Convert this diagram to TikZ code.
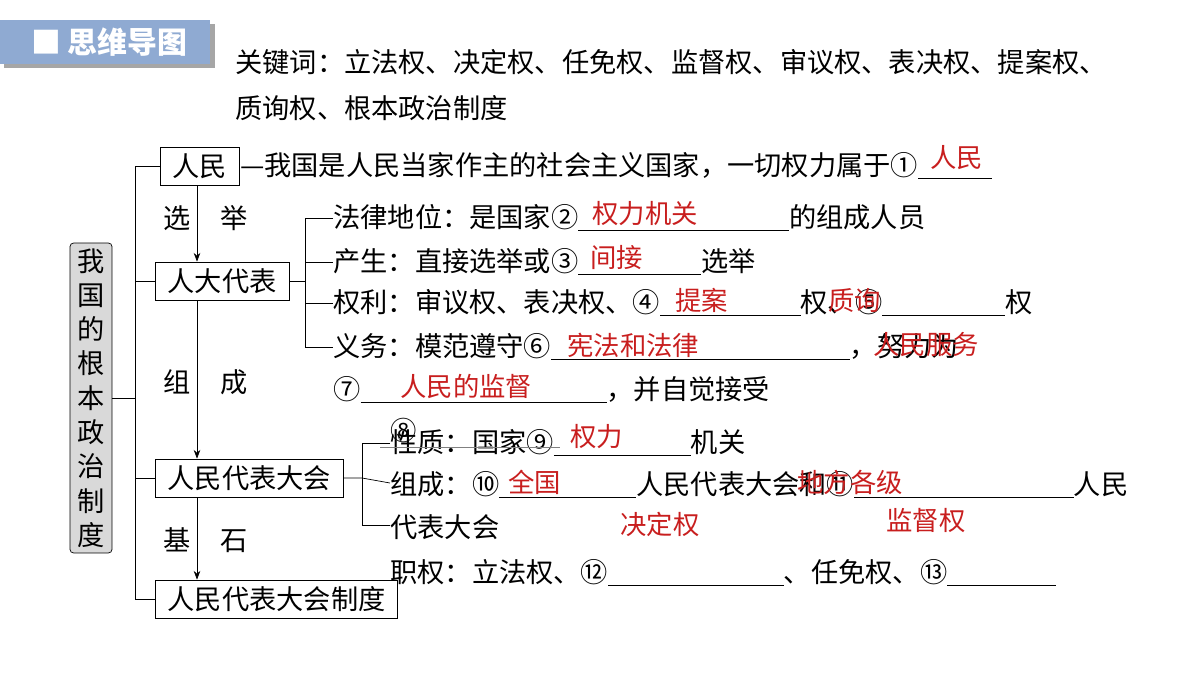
\documentclass[tikz,border=0pt]{standalone}
\usepackage{fontspec}
\setmainfont{Noto Sans CJK SC}
\usetikzlibrary{positioning,arrows.meta}
\definecolor{headblue}{RGB}{143,170,210}
\definecolor{ansred}{RGB}{200,30,30}
\newcommand{\blank}[1]{\underline{\makebox[#1]{}}}
\tikzset{
  txt/.style={anchor=west,inner sep=0pt,font=\fontsize{15.5}{18}\selectfont},
  ans/.style={anchor=west,inner sep=0pt,text=ansred,font=\fontsize{15}{18}\selectfont},
  boxnode/.style={draw,anchor=west,inner xsep=7pt,inner ysep=3pt,minimum height=0.76cm,font=\fontsize{15.5}{18}\selectfont},
}
\begin{document}
\begin{tikzpicture}[x=0.02cm,y=-0.02cm]
      \useasboundingbox (0,0) rectangle (1200,676);
      % header
      \fill[gray!70] (4,24) rectangle (215,68);
      \fill[headblue] (0,20) rectangle (210,64);
      \node[anchor=west,text=white,font=\fontsize{17}{20}\selectfont\bfseries] (head) at (25,42) {■ 思维导图};
      \draw
        (235,62) node[txt] (kw1){关键词：立法权、决定权、任免权、监督权、审议权、表决权、提案权、}
        (235,108) node[txt] (kw2){质询权、根本政治制度};
      % main nodes
      \node[draw,fill=gray!30,rounded corners=2pt,inner sep=2pt,minimum width=0.84cm,minimum height=6.2cm,
            align=center,font=\fontsize{15.5}{19.5}\selectfont] (root) at (91,398)
            {我\\国\\的\\根\\本\\政\\治\\制\\度};
      \node[boxnode] (people) at (160,166) {人民};
      \node[boxnode] (deputy) at (155,281) {人大代表};
      \node[boxnode] (npc) at (155,478) {人民代表大会};
      \node[boxnode] (system) at (155,599) {人民代表大会制度};
      \coordinate (s1) at (135,166);
      \coordinate (s2) at (135,599);
      \coordinate (s0) at (135,398);
      % connectors
      \begin{scope}[-]
        \draw (root.east) -- (s0);
        \draw (s1) -- (s2);
        \draw (s1) -- (people.west);
        \draw (s0 |- deputy.west) -- (deputy.west);
        \draw (s0 |- npc.west) -- (npc.west);
        \draw (s2) -- (system.west);
      \end{scope}
      \begin{scope}[-{Stealth[length=5pt]}]
        \draw (people.south -| 197,0) -- (deputy.north -| 197,0);
        \draw (deputy.south -| 197,0) -- (npc.north -| 197,0);
        \draw (npc.south -| 197,0) -- (system.north -| 197,0);
      \end{scope}
      \draw
        (163,218) node[txt] (l1){选\hspace{1.1em}举}
        (163,382) node[txt] (l2){组\hspace{1.1em}成}
        (163,540) node[txt] (l3){基\hspace{1.1em}石};
      % people line
      \node[txt] (pline) at (people.east) {—我国是人民当家作主的社会主义国家，一切权力属于①\blank{42pt}};
      % deputy bracket
      \coordinate (b1) at (305,218);
      \coordinate (b2) at (305,347);
      \draw (deputy.east) -- (305,281);
      \draw (b1 -| 333,0) -- (b1) -- (b2) -- (b2 -| 333,0);
      \draw (305,262) -- (333,262);
      \draw (305,303) -- (333,303);
      \draw
        (333,218) node[txt] (d1){法律地位：是国家②\blank{120pt}的组成人员}
        (333,262) node[txt] (d2){产生：直接选举或③\blank{70pt}选举}
        (333,303) node[txt] (d3){权利：审议权、表决权、④\blank{80pt}权、⑤\blank{70pt}权}
        (333,347) node[txt] (d4){义务：模范遵守⑥\blank{170pt}，努力为}
        (333,390) node[txt] (d5){⑦\blank{140pt}，并自觉接受};
      % npc bracket
      \coordinate (c1) at (362,443);
      \coordinate (c2) at (362,525);
      \draw (npc.east) -- (c1 |- npc.east) -- (390,483);
      \draw (c1 -| 390,0) -- (c1) -- (c2) -- (c2 -| 390,0);
      \draw
        (390,443) node[txt] (n1){性质：国家⑨\blank{78pt}机关}
        (390,485) node[txt] (n2){组成：⑩\blank{78pt}人民代表大会和⑪\blank{125pt}人民}
        (390,527) node[txt] (n3){代表大会}
        (390,573) node[txt] (n4){职权：立法权、⑫\blank{100pt}、任免权、⑬\blank{62pt}};
      \draw[gray] (380,447) -- (560,447);
      % answers
      \draw
        (930,158) node[ans] (a1){人民}
        (592,214) node[ans] (a2){权力机关}
        (590,258) node[ans] (a3){间接}
        (675,300) node[ans] (a4){提案}
        (828,300) node[ans] (a5){质询}
        (567,345) node[ans] (a6){宪法和法律}
        (873,345) node[ans] (a7){人民服务}
        (400,386) node[ans] (a8){人民的监督}
        (390,430) node[ans,text=black] (a9){⑧}
        (570,437) node[ans] (a10){权力}
        (508,482) node[ans] (a11){全国}
        (797,482) node[ans] (a12){地方各级}
        (620,524) node[ans] (a13){决定权}
        (886,521) node[ans] (a14){监督权};
    \end{tikzpicture}
\end{document}
